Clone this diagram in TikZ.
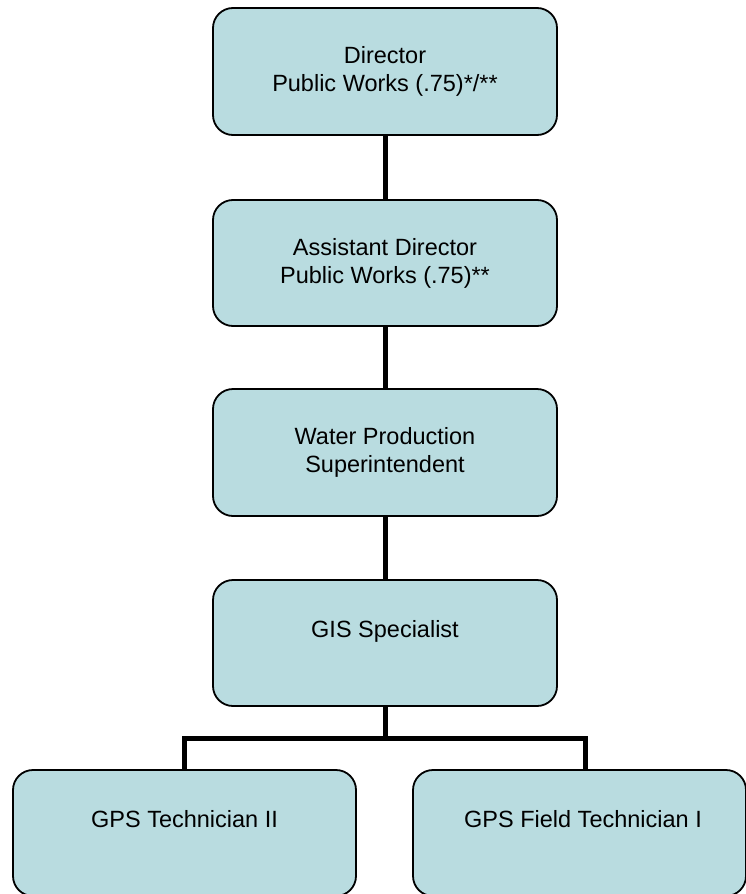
\documentclass[tikz,border=0pt]{standalone}
\usepackage{fontspec}
\setmainfont{Liberation Sans}
\usetikzlibrary{calc}
\begin{document}
\begin{tikzpicture}[x=1pt,y=-1pt,
  orgbox/.style={draw=black, line width=1.8pt, fill=boxfill, rounded corners=20pt,
    minimum width=344pt, minimum height=126pt, align=center, inner sep=0pt,
    font=\fontsize{23.5}{28}\selectfont},
  conn/.style={line width=5pt, draw=black}]
\definecolor{boxfill}{RGB}{185,220,224}
\useasboundingbox (0,0) rectangle (746,894);
\clip (0,0) rectangle (746,894);

% positions of the chart's boxes
\node[orgbox, minimum height=127pt] (dir)  at (385,71.5)  {Director\\Public Works (.75)*/**};
\node[orgbox] (asst) at (385,263)   {Assistant Director\\Public Works (.75)**};
\node[orgbox, minimum height=127pt] (wps)  at (385,452.5) {Water Production\\Superintendent};
\node[orgbox] (gis)  at (385,643)   {GIS Specialist\\\mbox{}};
\node[orgbox, minimum width=343pt] (gps2) at (184.5,833) {GPS Technician II\\\mbox{}};
\node[orgbox, minimum width=333pt] (gps1) at (579.5,833) {\hspace*{7pt}GPS Field Technician I\\\mbox{}};

% reporting lines
\coordinate (bus) at (385,738);
\coordinate (gps1in) at ($(gps1.north)+(5.5,0)$);
\draw[conn] (dir) -- (asst);
\draw[conn] (asst) -- (wps);
\draw[conn] (wps) -- (gis);
\draw[conn] (gis) -- (bus);
\draw[conn] (gps2.north) |- (bus) -| (gps1in);
\end{tikzpicture}
\end{document}
